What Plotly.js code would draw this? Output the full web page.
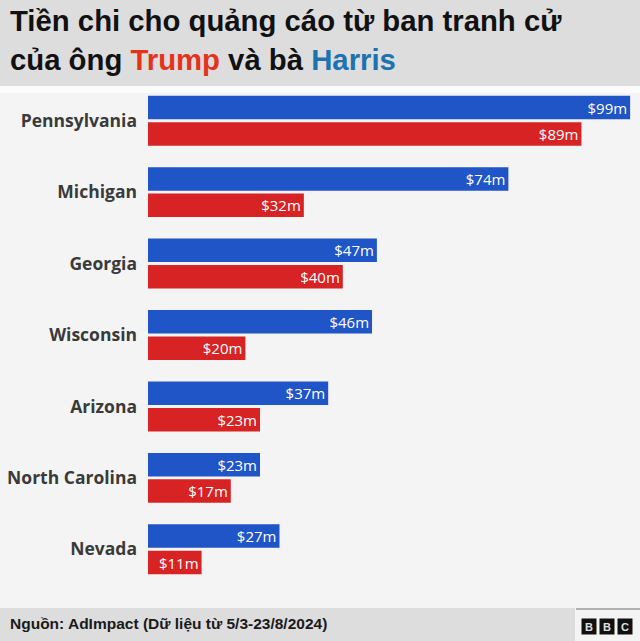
<!DOCTYPE html>
<html><head><meta charset="utf-8">
<script src="https://cdn.plot.ly/plotly-3.0.1.min.js"></script>
<style>html,body{margin:0;padding:0;background:#f4f4f4;}#chart{width:640px;height:641px;}</style>
</head><body><div id="chart"></div>
<script>
const states = ["Pennsylvania","Michigan","Georgia","Wisconsin","Arizona","North Carolina","Nevada"];
const harris = [99,74,47,46,37,23,27];
const trump = [89,32,40,20,23,17,11];
const titleLine1 = "Tiền chi cho quảng cáo từ ban tranh cử";
const titleLine2 = 'của ông <span style="color:#e4321b">Trump</span> và bà <span style="color:#1d72b0">Harris</span>';
const source = "Nguồn: AdImpact (Dữ liệu từ 5/3-23/8/2024)";
const logoLetters = ["B","B","C"];
const harrisColor = "#1f55c6";
const trumpColor = "#d72324";

const common = {type:"bar", orientation:"h", y: states, textposition:"inside", insidetextanchor:"end",
  texttemplate:"$%{x}m", constraintext:"none", textangle:0,
  textfont:{color:"#ffffff", size:15, family:"Open Sans"}, hoverinfo:"skip", cliponaxis:false};

const data = [
  Object.assign({}, common, {name:"Harris", x: harris, marker:{color:harrisColor}}),
  Object.assign({}, common, {name:"Trump", x: trump, marker:{color:trumpColor}})
];

// helpers: pixel -> paper coords (plot area: x 148..635, y 85..585)
const px = v => (v-148)/487;
const py = v => (585-v)/500;

const annotations = [
  {text:"<b>"+titleLine1+"</b>", xref:"paper", yref:"paper", x:px(8), xanchor:"left", y:py(20), yanchor:"middle", showarrow:false,
   font:{family:"Liberation Sans", size:29.3, color:"#111111"}},
  {text:"<b>"+titleLine2+"</b>", xref:"paper", yref:"paper", x:px(8), xanchor:"left", y:py(60), yanchor:"middle", showarrow:false,
   font:{family:"Liberation Sans", size:29.3, color:"#111111"}},
  {text:source, xref:"paper", yref:"paper", x:px(8), xanchor:"left", y:py(623), yanchor:"middle", showarrow:false,
   font:{family:"Liberation Sans", size:15.5, color:"#1a1a1a", weight:"bold"}}
];
logoLetters.forEach((L,i) => {
  annotations.push({text:"<b>"+L+"</b>", xref:"paper", yref:"paper", x:px(589+18*i), y:py(626.5), xanchor:"center", yanchor:"middle",
    showarrow:false, width:14, height:15, bgcolor:"#111111", borderpad:0, align:"center", valign:"middle",
    font:{family:"Liberation Sans", size:11, color:"#e0e0e0"}});
});

const layout = {
  width:640, height:641,
  paper_bgcolor:"#f4f4f4", plot_bgcolor:"#f4f4f4",
  margin:{l:148, r:5, t:85, b:56},
  showlegend:false,
  barmode:"group", bargap:0.26, bargroupgap:0.11,
  font:{family:"Liberation Sans"},
  xaxis:{range:[0,100], visible:false, fixedrange:true},
  yaxis:{autorange:"reversed", showgrid:false, zeroline:false, showline:false, ticks:"",
    ticklabelstandoff:10, tickfont:{family:"Open Sans", size:17.5, color:"#3a3a3a", weight:"bold"}},
  shapes:[
    {type:"rect", xref:"paper", yref:"paper", x0:px(0), x1:px(640), y0:py(86), y1:py(0), fillcolor:"#dddddd", line:{width:0}, layer:"below"},
    {type:"rect", xref:"paper", yref:"paper", x0:px(0), x1:px(640), y0:py(93), y1:py(86), fillcolor:"#fbfbfb", line:{width:0}, layer:"below"},
    {type:"rect", xref:"paper", yref:"paper", x0:px(0), x1:px(575), y0:py(641), y1:py(608), fillcolor:"#dddddd", line:{width:0}, layer:"below"},
    {type:"line", xref:"paper", yref:"paper", x0:px(576), x1:px(640), y0:py(609), y1:py(609), line:{color:"#9a9a9a", width:1.5}}
  ],
  annotations: annotations
};

Plotly.newPlot("chart", data, layout, {displayModeBar:false, staticPlot:true});
</script></body></html>
